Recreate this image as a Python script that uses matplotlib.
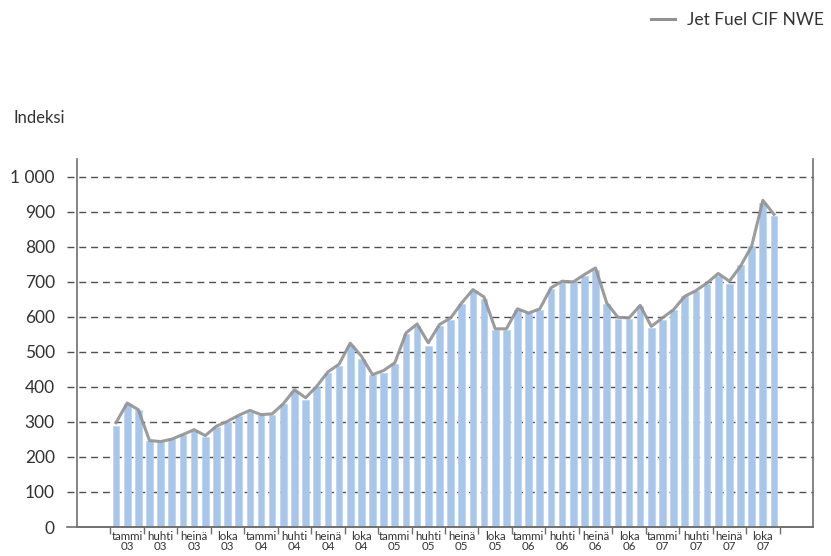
import matplotlib.pyplot as plt
from matplotlib.ticker import FixedLocator, FuncFormatter
from matplotlib.lines import Line2D
import numpy as np

plt.rcParams['font.family'] = ['Lato', 'DejaVu Sans']

# monthly values, tammikuu 2003 - joulukuu 2007
index_bars = [289, 351, 333, 245, 242, 250, 262, 275, 256, 286, 300, 316,
              329, 319, 321, 350, 388, 364, 400, 440, 461, 519, 481, 433,
              440, 466, 551, 574, 518, 575, 590, 638, 673, 652, 564, 564,
              619, 610, 621, 681, 700, 700, 718, 735, 638, 594, 594, 630,
              569, 592, 621, 659, 673, 695, 718, 695, 747, 802, 924, 888]
jet_fuel = [298, 354, 335, 247, 244, 251, 264, 278, 261, 288, 302, 319,
            333, 321, 323, 352, 392, 369, 402, 443, 465, 525, 488, 435,
            447, 469, 554, 580, 526, 578, 597, 640, 678, 657, 566, 566,
            623, 611, 623, 683, 702, 700, 721, 740, 640, 599, 597, 633,
            573, 597, 621, 659, 675, 697, 724, 702, 745, 802, 933, 893]
quarter_names = ["tammi", "huhti", "heinä", "loka"]
years = ["03", "04", "05", "06", "07"]
quarter_labels = [q + "\n" + y for y in years for q in quarter_names]
yticks = [0, 100, 200, 300, 400, 500, 600, 700, 800, 900, 1000]

txt = '#333333'
fig = plt.figure(figsize=(8.31, 5.56), dpi=100)
ax = fig.add_axes([77/831, 29/556, 736/831, 368/556])

x = np.arange(len(index_bars)) + 0.5
ax.bar(x, index_bars, width=0.6, color='#a8c5ea', edgecolor='#bcd3f0', lw=0.5, zorder=2)
ax.plot(x, jet_fuel, color='#919191', lw=2.2, alpha=0.9, zorder=3, solid_joinstyle='round')

ax.set_xlim(-3, 63)
ax.set_ylim(0, 1051)

# dashed gridlines that run a bit left of the axis
tr = ax.get_yaxis_transform()
for v in yticks[1:]:
    ax.plot([-10/736, 1], [v, v], transform=tr, color='#505050', lw=1.0,
            ls=(0, (5, 3.5)), clip_on=False, zorder=1)
ax.plot([-10/736, 1], [0, 0], transform=tr, color='#707070', lw=1.2, clip_on=False, zorder=4)

ax.yaxis.set_major_locator(FixedLocator(yticks))
ax.yaxis.set_major_formatter(FuncFormatter(lambda v, p: f"{int(v):,}".replace(",", " ")))
ax.tick_params(axis='y', length=0, pad=16, labelsize=12.5, labelcolor=txt)

ax.xaxis.set_major_locator(FixedLocator([3*i + 1.5 for i in range(20)]))
ax.set_xticklabels(quarter_labels, linespacing=0.9)
ax.xaxis.set_minor_locator(FixedLocator([3*i for i in range(21)]))
ax.tick_params(axis='x', which='major', length=0, pad=3, labelsize=8.3, labelcolor=txt)
ax.tick_params(axis='x', which='minor', length=5, width=1, color='#707070', direction='out')

for s in ['left', 'right', 'bottom']:
    ax.spines[s].set_color('#707070')
    ax.spines[s].set_linewidth(1.2)
ax.spines['top'].set_visible(False)

fig.text(13/831, 1 - 118/556, "Indeksi", fontsize=12, color=txt, va='center', ha='left')

h = Line2D([], [], color='#919191', lw=2.2)
fig.legend([h], ["Jet Fuel CIF NWE"], loc='center right', bbox_to_anchor=(824/831, 1 - 20/556),
           frameon=False, fontsize=12.5, handlelength=1.4, handletextpad=0.7, labelcolor=txt,
           borderaxespad=0, borderpad=0)

fig.savefig("out.png", dpi=100)
